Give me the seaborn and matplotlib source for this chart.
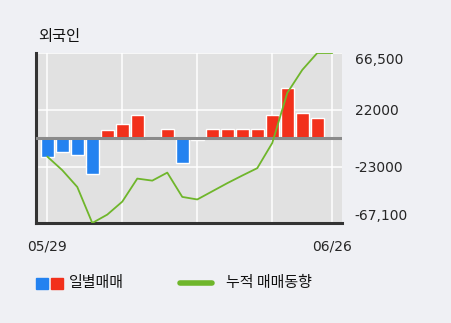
import matplotlib
matplotlib.use("Agg")
import matplotlib.pyplot as plt
import matplotlib.patches as mpatches
import matplotlib.lines as mlines
import seaborn as sns
import pandas as pd
import numpy as np

dates = ["05/29", "05/30", "05/31", "06/03", "06/04", "06/05", "06/07", "06/10",
         "06/11", "06/12", "06/13", "06/14", "06/17", "06/18", "06/19", "06/20",
         "06/21", "06/24", "06/25", "06/26"]
daily = [-14900, -11000, -13600, -28600, 6000, 10700, 17800, -1300, 6800, -19700,
         -2100, 6800, 6800, 6800, 6800, 17800, 39000, 19700, 15500, 0]
cumulative = [-14900, -25600, -38800, -67100, -60500, -50300, -32200, -33800, -27500, -46600,
              -48600, -42200, -35800, -29800, -24000, -4200, 35100, 53200, 66500, 66500]
ytick_vals = [66500, 22000, -23000, -67100]
ytick_labels = ["66,500", "22000", "-23000", "-67,100"]
title = "외국인"
legend_bar = "일별매매"
legend_line = "누적 매매동향"

BLUE = "#2382f0"
RED = "#f2301b"
GREEN = "#6fb62b"
BG = "#eff0f4"
PLOT_BG = "#e1e1e1"

sns.set_theme(style="white")
plt.rcParams["font.family"] = ["Noto Sans CJK KR", "DejaVu Sans"]

df = pd.DataFrame({
    "idx": np.arange(len(dates)),
    "daily": daily,
    "cum": cumulative,
})
df["sign"] = np.where(df["daily"] >= 0, "up", "down")

fig = plt.figure(figsize=(4.51, 3.23), dpi=100, facecolor=BG)
ax = fig.add_axes([36 / 451, 1 - 223 / 323, (342 - 36) / 451, (223 - 53) / 323])
ax.set_facecolor(PLOT_BG)

sns.barplot(data=df, x="idx", y="daily", hue="sign", palette={"up": RED, "down": BLUE},
            dodge=False, legend=False, width=0.86, saturation=1, ax=ax, zorder=2)
ax.axhline(0, color="#8a8a8a", lw=2.2, zorder=3)
sns.lineplot(data=df, x="idx", y="cum", color=GREEN, lw=1.3, ax=ax, zorder=4)

n = len(dates)
ax.set_xlim(-0.753, 19.65)
ax.set_ylim(-67100, 66500)

for i in [0, 5, 10, 15, 19]:
    ax.axvline(i, color="white", lw=1.1, zorder=1)
for v in [66500, 22000, -23000]:
    ax.axhline(v, color="white", lw=1.1, zorder=1)

ax.set_xticks([0, n - 1])
ax.set_xticklabels([dates[0], dates[-1]], fontsize=10, family=["DejaVu Sans"])
ax.tick_params(axis="x", length=0, pad=12)
ax.yaxis.tick_right()
ax.set_yticks(ytick_vals)
ax.set_yticklabels(ytick_labels, fontsize=10, family=["DejaVu Sans"])
ax.tick_params(axis="y", length=0, pad=9)
labels = ax.get_yticklabels()
labels[0].set_va("top")
labels[-1].set_va("bottom")
ax.set_xlabel("")
ax.set_ylabel("")

for s in ["top", "right"]:
    ax.spines[s].set_visible(False)
for s in ["left", "bottom"]:
    ax.spines[s].set_color("#333333")
    ax.spines[s].set_linewidth(2.2)

fig.text(38 / 451, 1 - 36 / 323, title, fontsize=11, va="center", ha="left", color="#111111")

# legend
fig.patches.append(mpatches.Rectangle((36 / 451, 1 - 289 / 323), 12 / 451, 11 / 323,
                                      transform=fig.transFigure, color=BLUE))
fig.patches.append(mpatches.Rectangle((51 / 451, 1 - 289 / 323), 12 / 451, 11 / 323,
                                      transform=fig.transFigure, color=RED))
fig.text(69 / 451, 1 - 283 / 323, legend_bar, fontsize=10.8, va="center", ha="left", color="#111111")
fig.lines.append(mlines.Line2D([180 / 451, 212 / 451], [1 - 283 / 323, 1 - 283 / 323],
                               transform=fig.transFigure, color=GREEN, lw=4))
fig.text(226 / 451, 1 - 283 / 323, legend_line, fontsize=10.8, va="center", ha="left", color="#111111")

fig.savefig("out.png", dpi=100, facecolor=BG)
